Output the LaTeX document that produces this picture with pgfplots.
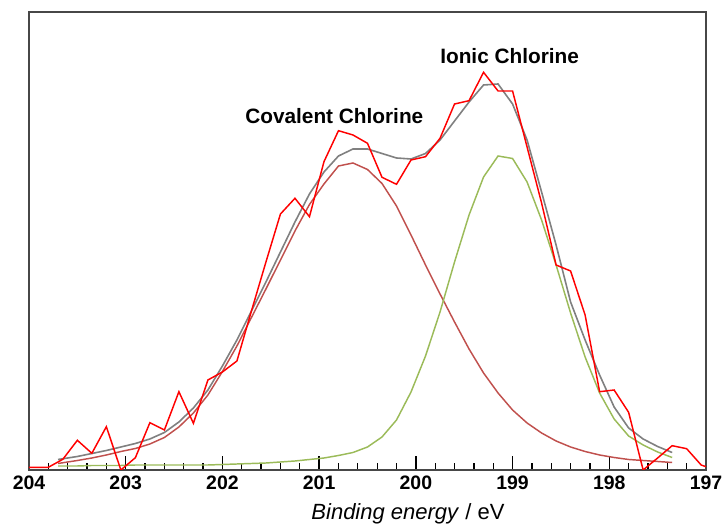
\documentclass[border=0pt]{standalone}
\usepackage{fontspec}
\setmainfont{Liberation Sans}
\usepackage{pgfplots}
\pgfplotsset{compat=1.18}
\definecolor{cred}{RGB}{255,0,0}
\definecolor{cgray}{RGB}{128,128,128}
\definecolor{cgreen}{RGB}{155,187,89}
\definecolor{cbrown}{RGB}{192,80,77}
\begin{document}
\begin{tikzpicture}
\useasboundingbox (0,0) rectangle (543.75pt,395.25pt);
\begin{axis}[
  scale only axis,
  width=507.75pt, height=343.5pt,
  at={(21.75pt,42.75pt)}, anchor=south west,
  xmin=197, xmax=204, x dir=reverse,
  ymin=0, ymax=458,
  xtick={197,198,199,200,201,202,203,204},
  minor x tick num=4,
  ytick=\empty,
  tick align=inside,
  xtick pos=bottom,
  major tick length=10.5pt,
  minor tick length=5pt,
  every tick/.style={black, line width=1pt},
  axis line style={draw=black!72, line width=1.3pt},
  /pgf/number format/assume math mode=true,
  xticklabel style={font=\fontsize{14.6}{16}\selectfont\bfseries, anchor=base, yshift=-15pt, inner sep=0pt},
  xlabel={\textit{Binding energy} / eV},
  xlabel style={font=\fontsize{16.5}{18}\selectfont, at={(axis description cs:0.5,0)}, anchor=base, xshift=30.4pt, yshift=-37pt, inner sep=0pt},
]
% covalent component
\addplot[cbrown, line width=1.1pt] coordinates {
(203.7,6.5) (203.5,9.5) (203.35,12) (203.2,15) (203.05,18.5) (202.9,21.5) (202.75,26) (202.6,32.5) (202.45,43) (202.3,57) (202.15,75) (202.0,98.5) (201.85,124) (201.7,152.5) (201.55,181) (201.4,210) (201.25,239) (201.1,265.5) (200.95,286) (200.8,304) (200.65,307) (200.5,300.5) (200.35,286.5) (200.2,264) (200.05,235) (199.9,205) (199.75,176) (199.6,148) (199.45,121) (199.3,97) (199.15,77) (199.0,60) (198.85,47) (198.7,37) (198.55,29) (198.4,23) (198.25,18.5) (198.1,15) (197.95,12.5) (197.8,10.5) (197.65,9.5) (197.5,8.5) (197.35,7.5)
};
% ionic component
\addplot[cgreen, line width=1.1pt] coordinates {
(203.7,4) (203.5,4) (203.35,4.5) (203.2,4.5) (203.05,4.5) (202.9,5) (202.75,5) (202.6,5) (202.45,5) (202.3,5) (202.15,5) (202.0,5.5) (201.85,6) (201.7,6.5) (201.55,7) (201.4,8) (201.25,9) (201.1,10.5) (200.95,12) (200.8,14.5) (200.65,17.5) (200.5,23) (200.35,33) (200.2,50) (200.05,78) (199.9,114) (199.75,158) (199.6,208) (199.45,255) (199.3,293) (199.15,314) (199.0,311.5) (198.85,288) (198.7,250) (198.55,205) (198.4,157) (198.25,113) (198.1,77) (197.95,51) (197.8,34) (197.65,25) (197.5,18) (197.35,12.5)
};
% envelope
\addplot[cgray, line width=1.2pt] coordinates {
(203.7,10.5) (203.5,13.5) (203.35,16.5) (203.2,19.5) (203.05,23) (202.9,26.5) (202.75,31) (202.6,37.5) (202.45,48) (202.3,62) (202.15,80) (202.0,104) (201.85,130) (201.7,159) (201.55,188) (201.4,218) (201.25,248) (201.1,276) (200.95,298) (200.8,314) (200.65,321) (200.5,321) (200.35,316.5) (200.2,312) (200.05,311) (199.9,316.5) (199.75,330) (199.6,349) (199.45,368) (199.3,385) (199.15,386) (199.0,366) (198.85,330) (198.7,278) (198.55,225) (198.4,168) (198.25,130) (198.1,95) (197.95,63) (197.8,42) (197.65,31) (197.5,23.5) (197.35,17.5)
};
% measured data
\addplot[cred, line width=1.1pt] coordinates {
(204,2.7) (203.8,2.7) (203.65,10.7) (203.5,29.7) (203.35,16.7) (203.2,43.3) (203.05,0) (202.9,12.3) (202.75,47.3) (202.6,40) (202.45,78.3) (202.3,46.7) (202.15,90) (202.0,98) (201.85,109) (201.7,159) (201.55,208) (201.4,256) (201.25,271.7) (201.1,253.3) (200.95,308.3) (200.8,339.3) (200.65,335) (200.5,326.7) (200.35,292.7) (200.2,285.7) (200.05,310) (199.9,313.3) (199.75,331.7) (199.6,366) (199.45,369.3) (199.3,397.7) (199.15,379) (199.0,379) (198.85,323) (198.7,267) (198.55,205) (198.4,199) (198.25,155) (198.1,78.3) (197.95,80) (197.8,57.7) (197.65,0) (197.5,12) (197.35,24.3) (197.2,21.3) (197.05,5) (197.0,3.3)
};
\node[anchor=base west, inner sep=0pt, font=\fontsize{15.6}{17}\selectfont\bfseries] at (axis cs:201.766,346.7) {Covalent Chlorine};
\node[anchor=base west, inner sep=0pt, font=\fontsize{15.6}{17}\selectfont\bfseries] at (axis cs:199.75,406) {Ionic Chlorine};
\end{axis}
\end{tikzpicture}
\end{document}
